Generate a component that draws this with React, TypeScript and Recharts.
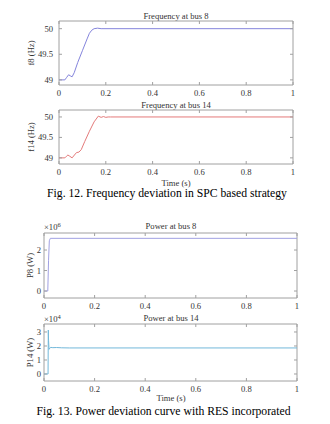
import type { CSSProperties, ReactNode } from "react"
import { LineChart, Line, XAxis, YAxis, ReferenceArea } from "recharts"

// time axis shared by all four panels
const xTicks = [0, 0.2, 0.4, 0.6, 0.8, 1]

// Fig. 12 - frequency at bus 8 (Hz)
const timeF8 = [0, 0.025, 0.033, 0.041, 0.048, 0.056, 0.065, 0.08, 0.1, 0.12, 0.13, 0.14, 0.15, 0.165, 0.18, 1]
const freq8 = [49, 49, 49.05, 49.1, 49.08, 49.06, 49.14, 49.34, 49.57, 49.8, 49.91, 49.97, 50.0, 50.01, 50, 50]

// Fig. 12 - frequency at bus 14 (Hz)
const timeF14 = [0, 0.025, 0.032, 0.038, 0.046, 0.056, 0.066, 0.075, 0.085, 0.095, 0.11, 0.13, 0.15, 0.168, 0.18, 0.19, 0.2, 0.21, 0.22, 1]
const freq14 = [49, 49, 49.04, 49.07, 49.04, 49.0, 49.07, 49.13, 49.14, 49.2, 49.4, 49.65, 49.88, 50.02, 49.99, 50.01, 49.99, 50.0, 50.0, 50]

// Fig. 13 - power at bus 8 (x10^6 W)
const timeP8 = [0, 0.015, 0.018, 0.021, 0.025, 1]
const power8 = [0, 0, 1.5, 2.45, 2.57, 2.57]

// Fig. 13 - power at bus 14 (x10^4 W)
const timeP14 = [0, 0.016, 0.017, 0.018, 0.02, 0.023, 0.027, 0.035, 0.05, 0.07, 0.1, 1]
const power14 = [0, 0, 3.14, 2.4, 1.76, 1.85, 1.9, 1.88, 1.89, 1.87, 1.86, 1.86]

const FONT = '"Liberation Serif", "Times New Roman", serif'
const AXIS = "#a0a0a0"
const TEXT = "#333"

type Box = { x: number; y: number; w: number; h: number }

interface PanelProps {
  box: Box
  times: number[]
  values: number[]
  color: string
  domain: [number, number]
  yTicks: number[]
  yGap: number
  yLabel: string
  yLabelX: number
}

const Panel = ({ box, times, values, color, domain, yTicks, yGap, yLabel, yLabelX }: PanelProps) => {
  const padTop = 4
  const padBottom = 16
  const T = padTop
  const H = box.h
  const L = box.x
  const W = box.w
  const data = times.map((t, i) => ({ t, v: values[i] }))

  const XTick = (p: any) => (
    <g>
      <line x1={p.x} x2={p.x} y1={T + H} y2={T + H - 3} stroke={AXIS} />
      <line x1={p.x} x2={p.x} y1={T} y2={T + 3} stroke={AXIS} />
      <text x={p.x} y={T + H + 7.5} dy="0.35em" textAnchor="middle" fill={TEXT} fontSize={8.6} fontFamily={FONT}>
        {String(p.payload.value)}
      </text>
    </g>
  )
  const YTick = (p: any) => (
    <g>
      <line x1={L} x2={L + 3} y1={p.y} y2={p.y} stroke={AXIS} />
      <line x1={L + W} x2={L + W - 3} y1={p.y} y2={p.y} stroke={AXIS} />
      <text x={L - yGap} y={p.y} dy="0.35em" textAnchor="end" fill={TEXT} fontSize={8.6} fontFamily={FONT}>
        {String(p.payload.value)}
      </text>
    </g>
  )
  // axis title drawn in the same svg, rotated about its centre
  const YTitle = () => (
    <text
      x={yLabelX}
      y={T + H / 2}
      dy="0.35em"
      textAnchor="middle"
      fill={TEXT}
      fontSize={8.6}
      fontFamily={FONT}
      transform={`rotate(-90 ${yLabelX} ${T + H / 2})`}
    >
      {yLabel}
    </text>
  )

  return (
    <div style={{ position: "absolute", left: 0, top: box.y - padTop }}>
      <LineChart
        width={330}
        height={padTop + H + padBottom}
        data={data}
        margin={{ top: padTop, left: L - 20, right: 330 - L - W, bottom: 0 }}
      >
        <XAxis
          dataKey="t"
          type="number"
          domain={[0, 1]}
          ticks={xTicks}
          interval={0}
          height={padBottom}
          tick={XTick}
          tickLine={false}
          axisLine={false}
          allowDataOverflow
        />
        <YAxis
          type="number"
          domain={domain}
          ticks={yTicks}
          interval={0}
          width={20}
          tick={YTick}
          tickLine={false}
          axisLine={false}
          allowDataOverflow
          label={<YTitle />}
        />
        <ReferenceArea x1={0} x2={1} y1={domain[0]} y2={domain[1]} fill="none" stroke={AXIS} strokeWidth={1} />
        <Line type="linear" dataKey="v" stroke={color} strokeWidth={1} dot={false} isAnimationActive={false} />
      </LineChart>
    </div>
  )
}

const Txt = ({ cx, cy, size = 8.6, color = TEXT, children }: { cx: number; cy: number; size?: number; color?: string; children: ReactNode }) => {
  const style: CSSProperties = {
    position: "absolute",
    left: cx,
    top: cy,
    transform: "translate(-50%, -50%)",
    whiteSpace: "nowrap",
    lineHeight: 1,
    fontSize: size,
    color,
  }
  return <div style={style}>{children}</div>
}

const Exp = ({ x, y, power }: { x: number; y: number; power: number }) => (
  <div style={{ position: "absolute", left: x, top: y, fontSize: 8.6, color: TEXT, lineHeight: 1, whiteSpace: "nowrap" }}>
    ×10<sup style={{ fontSize: 6.5, verticalAlign: 3 }}>{power}</sup>
  </div>
)

export default function App() {
  return (
    <div style={{ position: "absolute", left: 0, top: 0, width: 330, height: 424, background: "#fff", fontFamily: FONT, overflow: "hidden" }}>
      <Txt cx={176} cy={16}>Frequency at bus 8</Txt>
      <Panel box={{ x: 59, y: 21, w: 234, h: 64 }} times={timeF8} values={freq8} color="#8484dc" domain={[48.9, 50.15]} yTicks={[49, 49.5, 50]} yGap={6} yLabel="f8 (Hz)" yLabelX={31} />

      <Txt cx={176} cy={104.5}>Frequency at bus 14</Txt>
      <Panel box={{ x: 59, y: 110, w: 234, h: 54 }} times={timeF14} values={freq14} color="#e47a7a" domain={[48.85, 50.17]} yTicks={[49, 49.5, 50]} yGap={6} yLabel="f14 (Hz)" yLabelX={31} />
      <Txt cx={176} cy={183}>Time (s)</Txt>
      <Txt cx={167} cy={194} size={11.7} color="#000">Fig. 12. Frequency deviation in SPC based strategy</Txt>

      <Txt cx={171} cy={226}>Power at bus 8</Txt>
      <Exp x={44} y={222} power={6} />
      <Panel box={{ x: 44, y: 233, w: 253, h: 65 }} times={timeP8} values={power8} color="#a0a0e2" domain={[-0.34, 2.83]} yTicks={[0, 1, 2]} yGap={3} yLabel="P8 (W)" yLabelX={30} />

      <Txt cx={171} cy={318}>Power at bus 14</Txt>
      <Exp x={44} y={314} power={4} />
      <Panel box={{ x: 44, y: 324, w: 253, h: 57 }} times={timeP14} values={power14} color="#72b8da" domain={[-0.5, 3.57]} yTicks={[0, 1, 2, 3]} yGap={3} yLabel="P14 (W)" yLabelX={30} />
      <Txt cx={171} cy={398}>Time (s)</Txt>
      <Txt cx={163.5} cy={412} size={11.7} color="#000">Fig. 13. Power deviation curve with RES incorporated</Txt>
    </div>
  )
}
